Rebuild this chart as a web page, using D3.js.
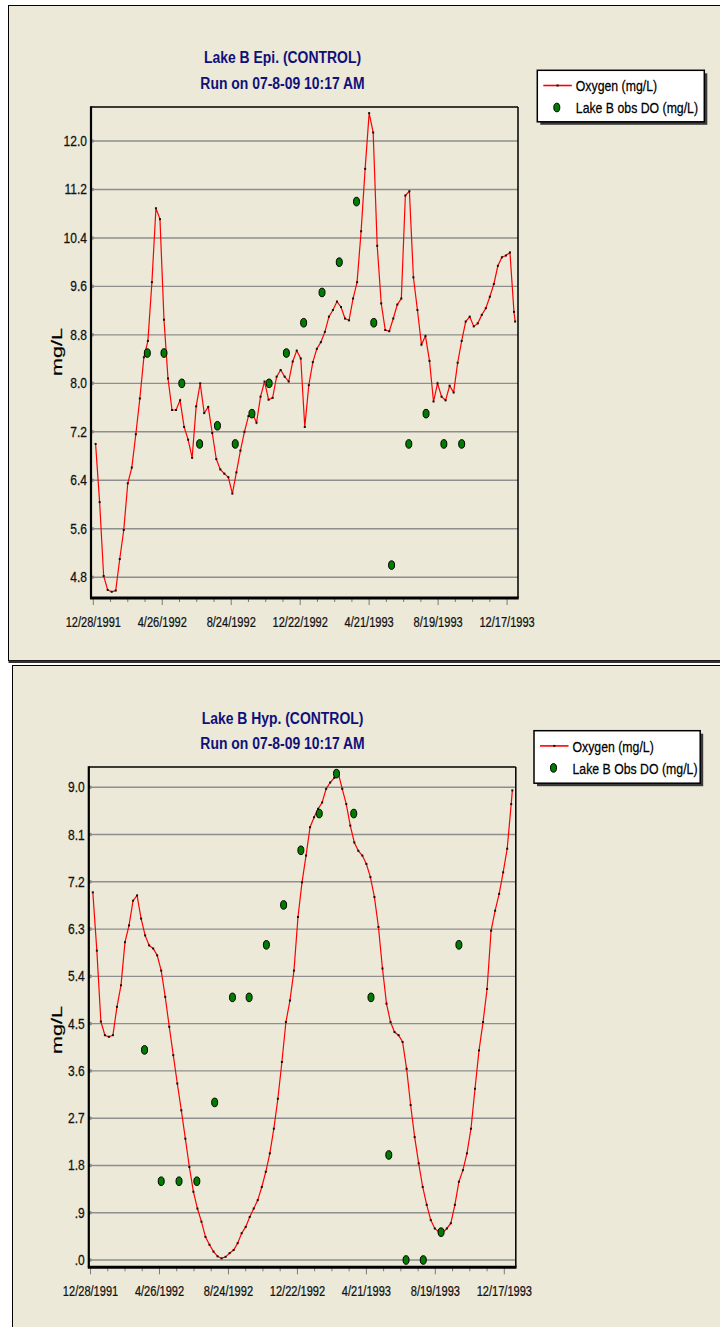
<!DOCTYPE html>
<html><head><meta charset="utf-8">
<script src="https://cdn.jsdelivr.net/npm/d3@7"></script>
<style>html,body{margin:0;padding:0;background:#fff;} svg{display:block;}</style>
</head><body>
<svg id="chart" width="720" height="1327"></svg>
<script>
// ---------- DATA ----------
// Model output: weekly from 1/1/1992, plus one final value on 12/31/1993
const modelStart = "1992-01-01";
const modelEnd = "1993-12-31";
const epiOxygen = [
  7.00, 6.04, 4.82, 4.59, 4.56, 4.58, 5.10, 5.58, 6.35, 6.61,
  7.16, 7.75, 8.43, 8.70, 9.67, 10.89, 10.71, 9.05, 8.08, 7.56,
  7.56, 7.72, 7.28, 7.07, 6.77, 7.62, 8.00, 7.51, 7.61, 7.18,
  6.75, 6.58, 6.51, 6.45, 6.18, 6.53, 6.89, 7.20, 7.46, 7.50,
  7.35, 7.78, 8.03, 7.73, 7.76, 8.11, 8.22, 8.11, 8.03, 8.36,
  8.54, 8.41, 7.28, 7.97, 8.35, 8.57, 8.68, 8.85, 9.10, 9.21,
  9.35, 9.26, 9.07, 9.04, 9.40, 9.67, 10.51, 11.54, 12.46, 12.14,
  10.27, 9.32, 8.88, 8.86, 9.07, 9.30, 9.40, 11.10, 11.17, 9.75,
  9.21, 8.64, 8.78, 8.37, 7.70, 8.00, 7.78, 7.72, 7.96, 7.85,
  8.34, 8.70, 9.02, 9.10, 8.94, 8.99, 9.13, 9.24, 9.43, 9.64,
  9.94, 10.08, 10.11, 10.16, 9.18,
  9.02
];
const hypOxygen = [
  7.00, 5.89, 4.54, 4.28, 4.25, 4.28, 4.82, 5.23, 6.05, 6.37,
  6.84, 6.94, 6.50, 6.18, 5.99, 5.93, 5.80, 5.51, 5.01, 4.44,
  3.90, 3.36, 2.85, 2.31, 1.77, 1.30, 0.98, 0.73, 0.44, 0.29,
  0.16, 0.07, 0.03, 0.06, 0.13, 0.19, 0.32, 0.51, 0.63, 0.82,
  0.98, 1.14, 1.39, 1.68, 2.03, 2.50, 3.07, 3.77, 4.53, 4.94,
  5.51, 6.53, 7.19, 7.70, 8.24, 8.43, 8.59, 8.71, 8.97, 9.09,
  9.18, 9.27, 8.97, 8.68, 8.27, 7.95, 7.79, 7.70, 7.54, 7.29,
  6.91, 6.34, 5.55, 4.88, 4.53, 4.34, 4.28, 4.15, 3.64, 2.95,
  2.34, 1.84, 1.39, 1.05, 0.76, 0.60, 0.54, 0.52, 0.60, 0.70,
  1.05, 1.49, 1.71, 2.03, 2.50, 3.26, 3.99, 4.53, 5.16, 6.27,
  6.65, 6.97, 7.38, 7.83, 8.68,
  8.94
];
// Observations
const obsDates = ["1992-03-31","1992-04-29","1992-05-30","1992-06-30","1992-07-31","1992-08-31",
  "1992-09-29","1992-10-29","1992-11-28","1992-12-28","1993-01-29","1993-02-28","1993-03-30",
  "1993-04-29","1993-05-30","1993-06-29","1993-07-29","1993-08-29","1993-09-29"];
const epiObs = [8.5, 8.5, 8.0, 7.0, 7.3, 7.0, 7.5, 8.0, 8.5, 9.0, 9.5, 10.0, 11.0, 9.0, 5.0, 7.0, 7.5, 7.0, 7.0];
const hypObs = [4.0, 1.5, 1.5, 1.5, 3.0, 5.0, 5.0, 6.0, 6.76, 7.8, 8.5, 9.26, 8.5, 5.0, 2.0, 0.0, 0.0, 0.53, 6.0];
// Axes
const xTickStart = "1991-12-28";
const xTickLabels = ["12/28/1991","4/26/1992","8/24/1992","12/22/1992","4/21/1993","8/19/1993","12/17/1993"];
const epiYTicks = [4.8, 5.6, 6.4, 7.2, 8.0, 8.8, 9.6, 10.4, 11.2, 12.0];
const hypYTicks = [0, 0.9, 1.8, 2.7, 3.6, 4.5, 5.4, 6.3, 7.2, 8.1, 9.0];
const epiYLabels = ["4.8","5.6","6.4","7.2","8.0","8.8","9.6","10.4","11.2","12.0"];
const hypYLabels = [".0",".9","1.8","2.7","3.6","4.5","5.4","6.3","7.2","8.1","9.0"];

// ---------- RENDER ----------
const parse = d3.utcParse("%Y-%m-%d");
const t0 = parse(modelStart);
const modelDates = d3.range(epiOxygen.length - 1).map(i => d3.utcDay.offset(t0, 7 * i)).concat([parse(modelEnd)]);
const tickBase = parse(xTickStart);
const allTicks = d3.range(25).map(k => d3.utcDay.offset(tickBase, 30 * k));

const svg = d3.select("#chart");
const FONT = '"Liberation Sans", Arial, Helvetica, sans-serif';
const BG = "#ECE9D8";

function ntext(parent, x, y, str, o) {
  return parent.append("text")
    .attr("transform", `translate(${x},${y}) scale(${o.sx || 0.82},1)`)
    .attr("text-anchor", o.anchor || "start")
    .attr("font-family", FONT)
    .attr("font-size", o.size)
    .attr("font-weight", o.weight || "normal")
    .attr("fill", o.fill || "#000")
    .attr("stroke", o.stroke || "none")
    .attr("stroke-width", o.sw || 0)
    .text(str);
}

const panels = [
  {
    title: "Lake B Epi. (CONTROL)", box: {x: 8.5, y: 5.5, h: 655},
    plot: {l: 91, r: 518, t: 107, b: 598}, xDays: [-4, 739], yDom: [4.457, 12.561],
    ticks: epiYTicks, labels: epiYLabels, model: epiOxygen, obs: epiObs,
    legend: {x: 537.3, y: 70.3, w: 167, h: 51.5}, obsName: "Lake B obs DO (mg/L)",
    title1: 63, title2: 88.5, ylab: 352
  },
  {
    title: "Lake B Hyp. (CONTROL)", box: {x: 12.5, y: 665.5, h: 700},
    plot: {l: 88.8, r: 515.8, t: 767, b: 1267.3}, xDays: [-3, 740], yDom: [-0.139, 9.386],
    ticks: hypYTicks, labels: hypYLabels, model: hypOxygen, obs: hypObs,
    legend: {x: 534, y: 730.7, w: 166.2, h: 52.5}, obsName: "Lake B Obs DO (mg/L)",
    title1: 723.5, title2: 749.3, ylab: 1030
  }
];

panels.forEach((P, pi) => {
  const g = svg.append("g");
  g.append("rect").attr("x", P.box.x).attr("y", P.box.y).attr("width", 740).attr("height", P.box.h)
    .attr("fill", BG).attr("stroke", "#000").attr("stroke-width", 1);
  if (pi === 0) {
    g.append("line").attr("x1", P.box.x).attr("x2", 720).attr("y1", P.box.y + P.box.h + 1.2).attr("y2", P.box.y + P.box.h + 1.2)
      .attr("stroke", "#333").attr("stroke-width", 2.5);
  }
  const pl = P.plot;
  const x = d3.scaleUtc()
    .domain([d3.utcDay.offset(tickBase, P.xDays[0]), d3.utcDay.offset(tickBase, P.xDays[1])])
    .range([pl.l, pl.r]);
  const y = d3.scaleLinear().domain(P.yDom).range([pl.b, pl.t]);

  // gridlines + y labels
  const grid = g.append("g");
  P.ticks.forEach((v, i) => {
    grid.append("line").attr("x1", pl.l).attr("x2", pl.r).attr("y1", y(v)).attr("y2", y(v))
      .attr("stroke", "#8e8e8e").attr("stroke-width", 1.4);
    grid.append("circle").attr("cx", pl.l + 1.5).attr("cy", y(v)).attr("r", 1.8).attr("fill", "#8e8e8e");
    ntext(g, pl.l - 4, y(v) + 5, P.labels[i], {size: 14, anchor: "end", sx: 0.86, fill: "#111", stroke: "#111", sw: 0.25});
  });

  // x ticks
  allTicks.forEach((d, k) => {
    const xx = x(d);
    if (xx < pl.l - 0.5 || xx > pl.r + 0.5) return;
    const major = k % 4 === 0;
    g.append("line").attr("x1", xx).attr("x2", xx).attr("y1", pl.b).attr("y2", pl.b + (major ? 7 : 4))
      .attr("stroke", "#7a7a7a").attr("stroke-width", 1);
    if (major) ntext(g, xx, pl.b + 29, xTickLabels[k / 4], {size: 14, anchor: "middle", sx: 0.79, fill: "#111", stroke: "#111", sw: 0.25});
  });

  // frame
  g.append("line").attr("x1", pl.l).attr("x2", pl.r).attr("y1", pl.t).attr("y2", pl.t).attr("stroke", "#000").attr("stroke-width", 1.5);
  g.append("line").attr("x1", pl.r).attr("x2", pl.r).attr("y1", pl.t).attr("y2", pl.b).attr("stroke", "#000").attr("stroke-width", 1.5);
  g.append("line").attr("x1", pl.l).attr("x2", pl.l).attr("y1", pl.t - 0.7).attr("y2", pl.b).attr("stroke", "#000").attr("stroke-width", 2.2);
  g.append("line").attr("x1", pl.l - 1).attr("x2", pl.r + 0.7).attr("y1", pl.b).attr("y2", pl.b).attr("stroke", "#000").attr("stroke-width", 3);

  // model line
  const md = P.model.map((v, i) => ({date: modelDates[i], v}));
  g.append("path").datum(md)
    .attr("d", d3.line().x(d => x(d.date)).y(d => y(d.v)))
    .attr("fill", "none").attr("stroke", "#ff0000").attr("stroke-width", 1.2);
  g.append("g").selectAll("rect").data(md).join("rect")
    .attr("x", d => x(d.date) - 1).attr("y", d => y(d.v) - 1).attr("width", 2).attr("height", 2)
    .attr("fill", "#111");

  // observations
  const od = P.obs.map((v, i) => ({date: parse(obsDates[i]), v}));
  g.append("g").selectAll("ellipse").data(od).join("ellipse")
    .attr("cx", d => x(d.date)).attr("cy", d => y(d.v)).attr("rx", 3).attr("ry", 4.3)
    .attr("fill", "#007d00").attr("stroke", "#000").attr("stroke-width", 1);

  // titles
  ntext(g, 282.5, P.title1, P.title, {size: 17, weight: "bold", anchor: "middle", sx: 0.82, fill: "#10107a"});
  ntext(g, 282.5, P.title2, "Run on 07-8-09 10:17 AM", {size: 17, weight: "bold", anchor: "middle", sx: 0.82, fill: "#10107a"});

  // y-axis title
  g.append("text").attr("transform", `translate(62,${P.ylab}) rotate(-90)`)
    .attr("text-anchor", "middle").attr("font-family", FONT).attr("font-size", 15)
    .attr("fill", "#000").attr("stroke", "#000").attr("stroke-width", 0.2)
    .attr("textLength", 48).attr("lengthAdjust", "spacingAndGlyphs").text("mg/L");

  // legend
  const L = P.legend;
  g.append("rect").attr("x", L.x + 3).attr("y", L.y + 3).attr("width", L.w).attr("height", L.h).attr("fill", "#3a3a3a");
  g.append("rect").attr("x", L.x).attr("y", L.y).attr("width", L.w).attr("height", L.h)
    .attr("fill", "#fff").attr("stroke", "#000").attr("stroke-width", 1.5);
  g.append("line").attr("x1", L.x + 6).attr("x2", L.x + 34.5).attr("y1", L.y + 15.2).attr("y2", L.y + 15.2)
    .attr("stroke", "#ff0000").attr("stroke-width", 1.6);
  g.append("rect").attr("x", L.x + 19.3).attr("y", L.y + 14.2).attr("width", 2).attr("height", 2).attr("fill", "#111");
  g.append("ellipse").attr("cx", L.x + 19.5).attr("cy", L.y + 37.2).attr("rx", 3).attr("ry", 4.3)
    .attr("fill", "#007d00").attr("stroke", "#000").attr("stroke-width", 1);
  ntext(g, L.x + 38.5, L.y + 21, "Oxygen (mg/L)", {size: 15, sx: 0.82, fill: "#000", stroke: "#000", sw: 0.25});
  ntext(g, L.x + 38.5, L.y + 43, P.obsName, {size: 15, sx: 0.82, fill: "#000", stroke: "#000", sw: 0.25});
});
</script>
</body></html>
